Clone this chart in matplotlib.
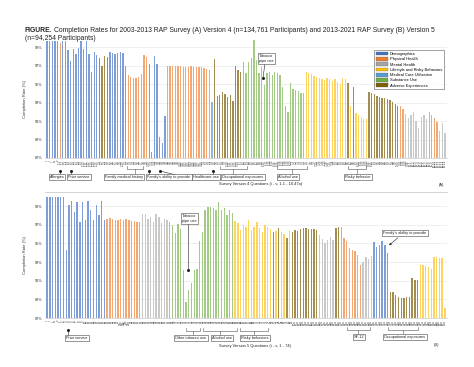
import matplotlib
matplotlib.use("Agg")
import matplotlib.pyplot as plt
from matplotlib.patches import Patch

plt.rcParams['font.family'] = ['Liberation Sans', 'DejaVu Sans']

W, H = 474, 367

categories = ["Demographics", "Physical Health", "Mental Health",
              "Lifestyle and Risky Behaviors", "Medical Care Utilization",
              "Substance Use", "Adverse Experiences"]
legend_colors = ["#4472C4", "#ED7D31", "#A5A5A5", "#FFC000", "#5B9BD5", "#70AD47", "#7F6000"]
bar_colors = ["#7F9ED8", "#F3A772", "#C9C9C9", "#FFD45E", "#8DB6E2", "#A3CB85", "#A38D4E"]

# ---------------- Panel A (Version 4) ----------------
a_values = [
    99.6, 99.6, 99.6, 99.6, 99.6,
    99.4,
    99.7, 99.7, 98.7, 97.5, 98.8, 98.3, 98.9, 99.7, 98.8, 99.6, 98.3, 96.3, 98.5, 98.1,
    97.8, 97.0, 98.0, 97.9,
    98.5, 98.4, 98.3, 98.4, 98.5, 98.4, 97.0,
    96.0, 95.8, 95.7, 95.7, 95.8, 96.1, 98.1, 97.9,
    97.2, 87.7, 98.0, 97.2, 89.3, 88.6, 91.5,
    97.0, 96.9, 96.9, 96.9, 96.9, 96.9, 96.8, 96.8, 96.8, 96.9, 96.8, 96.8, 96.8, 96.8, 96.7, 96.6, 96.5,
    93.1,
    97.7,
    93.7, 93.8, 94.1, 93.9, 93.6, 93.8, 93.2,
    97.0, 96.5, 96.3,
    97.4, 96.2, 97.4, 97.8, 99.8, 97.6, 96.2, 96.8, 94.9, 96.2, 96.3, 96.0, 96.3,
    96.2, 96.0, 94.7, 92.6, 92.0, 95.1, 94.5, 94.4, 94.2, 94.0, 94.0,
    96.3, 96.2, 96.1, 95.9, 95.8, 95.6, 95.5, 95.4, 95.6, 95.5, 95.3, 95.5, 95.2, 95.0, 95.7, 95.5,
    95.1, 92.6, 94.7,
    91.9, 91.7, 91.4, 91.2, 91.2,
    94.1, 94.0, 93.9, 93.7, 93.6, 93.5, 93.5, 93.4, 93.3, 93.1, 92.8, 92.6,
    92.6, 92.3,
    91.8, 91.3, 91.6, 92.0, 91.0, 90.2, 91.4, 91.6, 91.2,
    92.0, 91.7, 91.3, 90.9,
    89.9, 90.8, 89.7,
]
a_groups = (
    [0] * 5 + [1] + [0] * 14 + [6] * 4 + [0] * 7 + [1] * 8 + [0] * 7 + [1] * 17 +
    [4] + [6] + [6] * 7 + [6] * 3 + [5] * 24 + [3] * 16 + [6, 3, 6] + [3] * 5 +
    [6] * 12 + [1] * 2 + [2] * 9 + [1] * 4 + [2] * 3
)
a_labels = (["i", "ii", "iii", "iv", "v"] +
            ["%d.%d" % (s, k) for s, n in [(1, 15), (2, 10), (3, 12), (4, 18), (5, 14),
                                            (6, 20), (7, 16), (8, 15), (9, 14), (10, 20)]
             for k in range(1, n + 1)])[:len(a_values)]

# ---------------- Panel B (Version 5) ----------------
b_values = [
    100.0, 100.0, 100.0, 100.0, 100.0, 100.0, 100.0,
    94.3,
    99.1, 99.5, 98.4, 99.4, 97.3, 99.4, 97.5, 99.5, 98.6, 97.5, 99.1, 98.0, 99.5, 97.5,
    97.6, 97.7, 97.6, 97.5, 97.5, 97.6, 97.5, 97.6, 97.5, 97.4, 97.4, 97.3, 97.3,
    98.1, 98.1, 97.6, 97.8, 97.3, 98.1, 97.8, 97.2, 97.6, 97.5,
    97.3, 97.0, 96.1, 97.1, 96.5,
    92.1, 88.7, 90.0, 90.7, 92.1, 92.2,
    95.2, 96.2, 98.6, 98.9, 98.9, 98.8, 98.6, 99.4, 98.6, 98.8, 98.0, 98.6, 98.2,
    97.4, 97.2, 96.4, 97.0, 96.8, 97.5, 96.4, 96.8, 97.3, 96.6, 96.2, 97.0, 96.8,
    96.5, 96.2, 96.3, 96.6, 96.2, 96.0, 95.6, 96.3, 96.2, 96.4, 96.3, 96.5,
    96.6, 96.6, 96.5, 96.5, 96.5, 96.4,
    95.9, 95.5, 95.0, 95.4, 95.7, 95.4,
    96.6, 96.8,
    96.8, 95.6, 95.3,
    94.5, 94.3, 94.2, 93.8, 92.7,
    93.0, 93.5, 93.3, 93.6,
    95.1, 94.6, 94.8, 95.2, 94.8, 94.0,
    89.8, 89.8, 89.5, 89.3, 89.1, 89.1, 89.3, 89.3, 91.3, 91.1, 91.1,
    92.7, 92.7, 92.6, 92.5, 92.3, 93.5, 93.5, 93.4, 93.4,
    88.1,
]
b_groups = (
    [0] * 7 + [0] + [0] * 14 + [1] * 13 + [2] * 10 + [5] * 5 + [5] * 6 + [5] * 13 +
    [3] * 13 + [3, 6, 3, 6, 3, 3, 6, 3, 6, 6, 6, 6] + [6] * 6 + [2] * 6 + [6] * 2 +
    [1] * 3 + [1] * 5 + [2] * 4 + [0] * 6 + [6] * 11 + [3] * 9 + [3]
)
b_labels = (["i", "ii", "iii", "iv", "v"] +
            [str(k) for k in range(1, 23)] + ["23a", "23b", "23c", "23d"] +
            [str(k) for k in range(24, 75)] +
            ["%da" % k for k in range(1, 75)])[:len(b_values)]

fig = plt.figure(figsize=(W / 100, H / 100), dpi=100)
fig.patch.set_facecolor("white")


def px_axes(left, top, right, bottom):
    return fig.add_axes([left / W, 1 - bottom / H, (right - left) / W, (bottom - top) / H])


def draw_panel(ax, values, groups, labels, ymax):
    x = list(range(len(values)))
    fc = [bar_colors[g] for g in groups]
    ax.bar(x, values, width=0.5, color=fc, linewidth=0, zorder=2)
    ax.set_ylim(87, ymax)
    ax.set_xlim(-0.8, len(values) - 0.2)
    ticks = [87, 89, 91, 93, 95, 97, 99]
    ax.set_yticks(ticks)
    ax.set_yticklabels(["%d%%" % t for t in ticks], fontsize=2.8, color="#333333")
    ax.set_xticks(x)
    ax.set_xticklabels(labels, rotation=90, fontsize=2.0, color="#333333")
    ax.tick_params(axis="both", length=0, pad=1.5)
    ax.grid(axis="y", color="#E3E3E3", linewidth=0.4, zorder=0)
    for s in ["top", "right", "left"]:
        ax.spines[s].set_visible(False)
    ax.spines["bottom"].set_color("#BBBBBB")
    ax.spines["bottom"].set_linewidth(0.4)
    ax.set_ylabel("Completion Rate (%)", fontsize=3.0, color="#333333", labelpad=6)


axA = px_axes(45, 40, 447, 158)
draw_panel(axA, a_values, a_groups, a_labels, 99.76)
axB = px_axes(45, 192, 447, 318)
draw_panel(axB, b_values, b_groups, b_labels, 100.5)
axB.axhline(100.5, color="#CCCCCC", linewidth=0.6, zorder=1, clip_on=False)

# legend
handles = [Patch(facecolor=c, edgecolor="#555555", linewidth=0.2) for c in legend_colors]
leg = axA.legend(handles, categories, loc="upper left", bbox_to_anchor=((374 - 45) / 402, 1 - (50 - 40) / 118),
                 fontsize=2.9, frameon=True, fancybox=False, edgecolor="#333333",
                 handlelength=3.0, handleheight=1.1, labelspacing=0.25, borderpad=0.4,
                 handletextpad=0.5, borderaxespad=0)
leg.get_frame().set_linewidth(0.4)

# overlay in pixel coordinates
ov = fig.add_axes([0, 0, 1, 1], zorder=10)
ov.set_xlim(0, W)
ov.set_ylim(H, 0)
ov.axis("off")

t_fig = ov.text(25, 31, "FIGURE.", fontsize=4.9, fontweight="bold", va="center", ha="left",
                color="#222222")
fig.canvas.draw()
bb = t_fig.get_window_extent()
x_after = bb.x1 + 2.0
ov.text(x_after, 31, "Completion Rates for 2003-2013 RAP Survey (A) Version 4 (n=134,761 Participants) and "
        "2013-2021 RAP Survey (B) Version 5", fontsize=4.9, va="center", ha="left", color="#222222")
ov.text(25, 38.5, "(n=94,254 Participants)", fontsize=4.9, va="center", ha="left", color="#222222")

box = dict(boxstyle="square,pad=0.25", fc="white", ec="#444444", lw=0.4)


def label_box(x, y, s):
    ov.text(x, y, s, fontsize=2.8, ha="center", va="center", bbox=box, color="#222222")


def pointer(x, y0, y1):
    ov.plot([x, x], [y0, y1], color="#222222", lw=0.4)
    ov.plot([x], [y1], marker="o", ms=1.2, color="#222222")


def bracket(x1, x2, y, ybox):
    ov.plot([x1, x1, x2, x2], [y - 3, y, y, y - 3], color="#555555", lw=0.4)
    xm = (x1 + x2) / 2
    ov.plot([xm, xm], [y, ybox - 2.5], color="#555555", lw=0.4)


# Panel A annotations
label_box(57, 177, "Allergies")
pointer(60, 175, 171)
label_box(79, 177, "Prior service")
pointer(71, 175, 171)
label_box(124, 177, "Family medical history")
bracket(127, 143, 169, 177)
label_box(169, 177, "Family's ability to provide")
pointer(149, 175, 171)
ov.plot([160, 176], [171, 175], color="#222222", lw=0.4)
ov.plot([160], [171], marker="o", ms=1.2, color="#222222")
label_box(206, 177, "Healthcare use")
pointer(213, 175, 171)
label_box(243, 177, "Occupational exposures")
bracket(220, 247, 169, 177)
ov.text(261, 184.5, "Survey Version 4 Questions (i - v, 1.1 - 10.47a)", fontsize=2.9, ha="center", va="center", color="#222222")
label_box(288, 177, "Alcohol use")
bracket(277, 307, 169, 177)
label_box(358, 177, "Risky behavior")
bracket(348, 366, 169, 177)
ov.text(441, 185, "(A)", fontsize=2.9, ha="center", va="center", color="#222222")
ov.text(266.5, 58.5, "Tobacco\npipe use", fontsize=2.8, ha="center", va="center", bbox=box,
        linespacing=1.1, color="#222222")
ov.plot([265, 263], [63, 78], color="#222222", lw=0.4)
ov.plot([263], [78], marker="o", ms=1.2, color="#222222")

# Panel B annotations
label_box(77, 338, "Prior service")
pointer(68, 336, 330)
ov.text(189.5, 218.5, "Tobacco\npipe use", fontsize=2.8, ha="center", va="center", bbox=box,
        linespacing=1.1, color="#222222")
ov.plot([188, 188], [223, 270], color="#222222", lw=0.4)
ov.plot([188], [270], marker="o", ms=1.2, color="#222222")
label_box(191, 338, "Other tobacco use")
bracket(186, 200, 331, 338)
label_box(222, 338, "Alcohol use")
bracket(203, 237, 331, 338)
label_box(255, 338, "Risky behaviors")
bracket(240, 268, 331, 338)
ov.text(255, 345.5, "Survey Version 5 Questions (i - v, 1 - 74)", fontsize=2.9, ha="center", va="center", color="#222222")
label_box(359, 337, "SF-12")
bracket(347, 370, 330, 337)
label_box(405, 337, "Occupational exposures")
bracket(388, 418, 330, 337)
label_box(405, 233, "Family's ability to provide")
ov.annotate("", xy=(387, 247), xytext=(400, 236),
            arrowprops=dict(arrowstyle="-|>", lw=0.4, color="#222222", mutation_scale=3))
ov.text(437, 345, "(B)", fontsize=2.9, ha="center", va="center", color="#222222")

fig.savefig("out.png", dpi=100, facecolor="white")
